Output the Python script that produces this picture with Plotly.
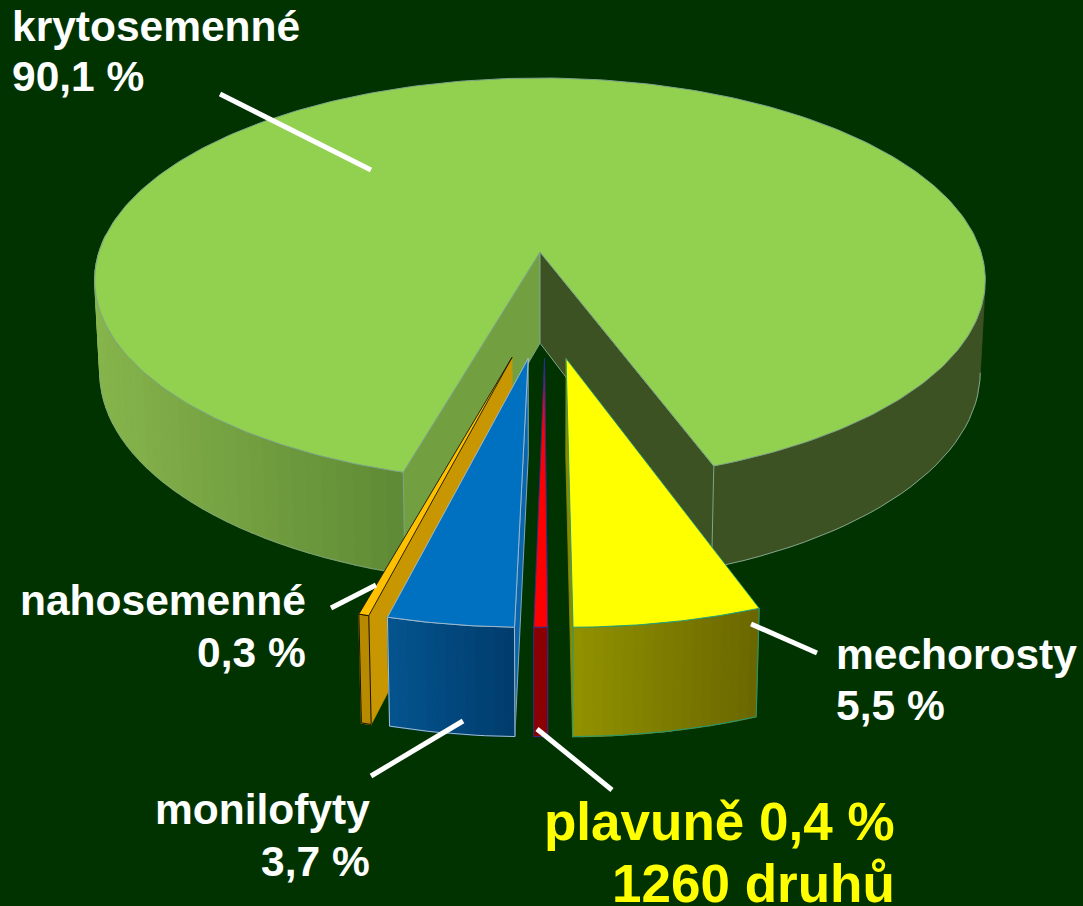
import math
import plotly.graph_objects as go

# --- data ---
categories = ["mechorosty", "plavuně", "monilofyty", "nahosemenné", "krytosemenné"]
values = [5.5, 0.4, 3.7, 0.3, 90.1]
start_angle = 159.95

top_colors = ["#ffff00", "#ff0000", "#0070c0", "#ffc000", "#92d050"]
outline_colors = ["#1f9a78", "#26308f", "#a4bccf", "#1a1400", "#7fa58c"]
face_colors = ["#8a8a00", "#8b0000", "#0a66ac", "#c89600", "#72a040"]
face_lines = ["#8a8a00", "#26308f", "#a4bccf", "#c89600", "#7fa58c"]
wall_left = ["#929200", "#8b0000", "#04548f", "#b88a00", "#87b54c"]
wall_right = ["#6a6600", "#8b0000", "#003c6c", "#b88a00", "#5f8a35"]
explode_u = [0.055, 0.0095, -0.025, -0.059, 0.0]
explode_v = [-0.5, -0.5, -0.5, -0.495, 0.0]

main_right_color = "#3d5222"

WHITE_SIZE, YELLOW_SIZE = 42.5, 53
label_lines = [
    ("krytosemenné", 13, 42, "left", WHITE_SIZE, "#ffffff"),
    ("90,1 %", 13, 92, "left", WHITE_SIZE, "#ffffff"),
    ("nahosemenné", 305, 616, "right", WHITE_SIZE, "#ffffff"),
    ("0,3 %", 305, 668, "right", WHITE_SIZE, "#ffffff"),
    ("monilofyty", 369, 825, "right", WHITE_SIZE, "#ffffff"),
    ("3,7 %", 369, 877, "right", WHITE_SIZE, "#ffffff"),
    ("mechorosty", 837, 670, "left", WHITE_SIZE, "#ffffff"),
    ("5,5 %", 837, 721, "left", WHITE_SIZE, "#ffffff"),
    ("plavuně 0,4 %", 894, 841, "right", YELLOW_SIZE, "#ffff00"),
    ("1260 druhů", 894, 903, "right", YELLOW_SIZE, "#ffff00"),
]
leaders = [
    (220, 94, 371, 170),
    (331, 608, 376, 585),
    (371, 776, 463, 721),
    (751, 624, 817, 653),
    (537, 729, 612, 790),
]

# --- perspective camera fitted to the picture ---
CX, W, A, B, C, E, F = 540.0, 441.0, -163.2, 252.0, 0.1386, 0.0113, 95.0


def proj(u, v, z=0.0):
    d = 1 + C * v + E * z
    return CX + W * u / d, (A * v + B + F * z) / d


def rim(eu, ev, th, z=0.0):
    t = math.radians(th)
    return proj(eu + math.sin(t), ev + math.cos(t), z)


def mix(c1, c2, t):
    a = [int(c1[i:i + 2], 16) for i in (1, 3, 5)]
    b = [int(c2[i:i + 2], 16) for i in (1, 3, 5)]
    return "#%02x%02x%02x" % tuple(round(p + (q - p) * t) for p, q in zip(a, b))


fig = go.Figure()


def poly(pts, fill, line=None, width=1.0):
    fig.add_trace(go.Scatter(
        x=[p[0] for p in pts] + [pts[0][0]],
        y=[p[1] for p in pts] + [pts[0][1]],
        mode="lines", fill="toself", fillcolor=fill,
        line=dict(color=line or fill, width=width),
        hoverinfo="skip", showlegend=False))


def path(pts, color, width=1.0):
    fig.add_trace(go.Scatter(
        x=[p[0] for p in pts], y=[p[1] for p in pts], mode="lines",
        line=dict(color=color, width=width), hoverinfo="skip", showlegend=False))


def arc_angles(a0, a1, step=1.0):
    n = max(2, int(abs(a1 - a0) / step))
    return [a0 + (a1 - a0) * i / n for i in range(n + 1)]


def wall(eu, ev, a0, a1, c_left, c_right, xl, xr, step):
    angs = arc_angles(a0, a1, step)
    for p, q in zip(angs[:-1], angs[1:]):
        pts = [rim(eu, ev, p), rim(eu, ev, q), rim(eu, ev, q, 1), rim(eu, ev, p, 1)]
        xm = sum(s[0] for s in pts) / 4
        t = min(1, max(0, (xm - xl) / (xr - xl)))
        poly(pts, mix(c_left, c_right, t), width=1.2)


# cumulative slice angles
spans = []
acc = start_angle
for val in values:
    sweep = val / sum(values) * 360
    spans.append((acc, acc + sweep))
    acc += sweep

# --- main slice (index 4) ---
i = 4
a0, a1 = spans[i]
eu, ev = explode_u[i], explode_v[i]
ol = outline_colors[i]
poly([rim(eu, ev, a) for a in arc_angles(a1 - 360, 100, 2)] +
     [rim(eu, ev, a, 1) for a in arc_angles(100, a1 - 360, 2)], main_right_color, width=0.8)
wall(eu, ev, a0, 275, wall_right[i], wall_left[i], 403, 95, 2.0)
path([rim(eu, ev, a, 1) for a in arc_angles(a1 - 360, 98, 2)], ol)
path([rim(eu, ev, a, 1) for a in arc_angles(a0, 262, 2)], ol, 0.7)
apex, apex_b = proj(eu, ev), proj(eu, ev, 1)
poly([apex, rim(eu, ev, a0), rim(eu, ev, a0, 1), apex_b], face_colors[i], ol)
poly([apex, rim(eu, ev, a1), rim(eu, ev, a1, 1), apex_b], main_right_color, ol)
poly([apex] + [rim(eu, ev, a) for a in arc_angles(a0, a1, 1)], top_colors[i], ol)

# --- exploded slices, back to front ---
for i in (3, 2, 1, 0):
    a0, a1 = spans[i]
    eu, ev = explode_u[i], explode_v[i]
    ol = outline_colors[i]
    apex, apex_b = proj(eu, ev), proj(eu, ev, 1)
    visible_edge = a1 if i == 0 else a0
    poly([apex, rim(eu, ev, visible_edge), rim(eu, ev, visible_edge, 1), apex_b],
         face_colors[i], face_lines[i], 0.8)
    xs = [rim(eu, ev, a)[0] for a in (a0, a1)]
    wall(eu, ev, a0, a1, wall_left[i], wall_right[i], min(xs), max(xs), 1.0)
    path([rim(eu, ev, a) for a in arc_angles(a0, a1, 1)] +
         [rim(eu, ev, a, 1) for a in arc_angles(a1, a0, 1)] + [rim(eu, ev, a0)], ol, 1.0)
    poly([apex] + [rim(eu, ev, a) for a in arc_angles(a0, a1, 0.5)], top_colors[i], ol, 0.9)

fig.update_layout(
    width=1083, height=906, autosize=False,
    margin=dict(l=0, r=0, t=0, b=0),
    paper_bgcolor="#003300", plot_bgcolor="#003300",
    xaxis=dict(range=[0, 1083], visible=False, fixedrange=True),
    yaxis=dict(range=[906, 0], visible=False, fixedrange=True),
    showlegend=False,
    shapes=[dict(type="line", x0=a, y0=b, x1=c, y1=d, xref="x", yref="y",
                 line=dict(color="#ffffff", width=5)) for a, b, c, d in leaders],
    annotations=[dict(text=t, x=x, y=y - 0.36 * s, xref="x", yref="y", xanchor=al,
                      xshift=-3 if al == "left" else 3,
                      yanchor="middle", showarrow=False, align=al,
                      font=dict(family="Liberation Sans", size=s, color=col, weight="bold"))
                 for t, x, y, al, s, col in label_lines],
)

fig.write_html("out.html", config={"displayModeBar": False},
               post_script="document.body.style.margin='0';document.body.style.background='#003300';document.body.style.overflow='hidden';")
